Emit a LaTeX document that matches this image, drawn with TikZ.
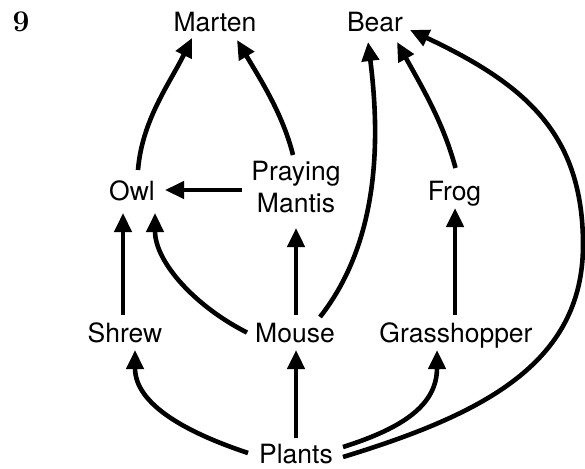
\documentclass[tikz,border=0pt]{standalone}
\usepackage{fontspec}
\newfontfamily\heros{TeX Gyre Heros}
\usetikzlibrary{arrows.meta}
\begin{document}
\begin{tikzpicture}[x=1pt,y=-1pt,
  lbl/.style={font={\heros\fontsize{26.5}{31.5}\selectfont}, inner sep=0pt, text height=19pt, text depth=0pt},
  lbltwo/.style={font={\heros\fontsize{26.5}{31.5}\selectfont}, inner sep=0pt, align=center},
  arr/.style={line width=4.6pt, -{Triangle[length=19pt,width=17pt]}}]
\useasboundingbox (0,0) rectangle (585,468);
\node[font={\fontsize{30}{32}\selectfont\bfseries}, inner sep=0pt, anchor=base] (num) at (21,31.5) {9};
\node[lbl] (marten) at (215,22) {Marten};
\node[lbl] (bear) at (375,22) {Bear};
\node[lbl] (owl) at (132,190.5) {Owl};
\node[lbltwo] (mantis) at (296,187) {Praying\\Mantis};
\node[lbl] (frog) at (454.5,190.5) {Frog};
\node[lbl] (shrew) at (125,332.5) {Shrew};
\node[lbl] (mouse) at (295,332.5) {Mouse};
\node[lbl] (grass) at (456,332.5) {Grasshopper};
\node[lbl] (plants) at (296,453.5) {Plants};
% connectors
\draw[arr] ([shift={(6,-20.5)}]owl.center) .. controls +(4,-50) and +(-22,45) .. ([shift={(-23,16)}]marten.center);
\draw[arr] ([shift={(-3,-32)}]mantis.center) .. controls +(-10,-40) and +(25,42) .. ([shift={(22,18)}]marten.center);
\draw[arr] ([shift={(-54,3)}]mantis.center) -- ([shift={(33,-0.5)}]owl.center);
\draw[arr] ([shift={(25,-15.5)}]mouse.center) .. controls +(55,-70) and +(14,110) .. ([shift={(-7,20)}]bear.center);
\draw[arr] ([shift={(1,-22.5)}]frog.center) .. controls +(-12,-45) and +(25,45) .. ([shift={(22,20)}]bear.center);
\draw[arr] ([shift={(47,3.5)}]plants.center) .. controls +(137,-42) and (583,365) .. (583,245) .. controls (583,135) and +(117,55) .. ([shift={(35,8)}]bear.center);
\draw[arr] ([shift={(-2,-17.5)}]shrew.center) -- ([shift={(-9,22.5)}]owl.center);
\draw[arr] ([shift={(-48,0)}]mouse.center) .. controls +(-50,-25) and +(0,50) .. ([shift={(23,22.5)}]owl.center);
\draw[arr] ([shift={(1,-17.5)}]mouse.center) -- ([shift={(0,41)}]mantis.center);
\draw[arr] ([shift={(-1,-17.5)}]grass.center) -- ([shift={(0.5,17.5)}]frog.center);
\draw[arr] ([shift={(-48,-0.5)}]plants.center) .. controls +(-60,-20) and +(0,55) .. ([shift={(10,17.5)}]shrew.center);
\draw[arr] ([shift={(0,-15.5)}]plants.center) -- ([shift={(1,17.5)}]mouse.center);
\draw[arr] ([shift={(47,-6.5)}]plants.center) .. controls +(60,-19) and +(0,55) .. ([shift={(-19,17.5)}]grass.center);
\end{tikzpicture}
\end{document}
